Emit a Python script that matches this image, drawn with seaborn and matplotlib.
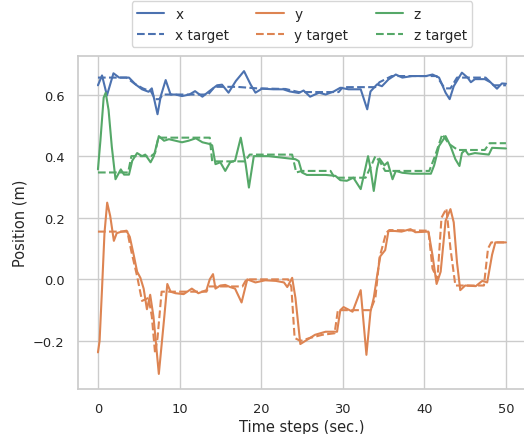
import numpy as np
import pandas as pd
import matplotlib
matplotlib.use("Agg")
import matplotlib.pyplot as plt
import seaborn as sns

# (time, value) pairs
x_pos = [(0, 0.63), (0.5, 0.662), (1.1, 0.597), (1.9, 0.669), (2.6, 0.655), (3.8, 0.655),
         (4.6, 0.633), (5.4, 0.617), (6.2, 0.609), (6.6, 0.62), (7.3, 0.536), (7.7, 0.595),
         (8.3, 0.647), (8.9, 0.60), (9.5, 0.60), (10.3, 0.595), (11.2, 0.60), (11.9, 0.611),
         (12.8, 0.593), (13.6, 0.61), (14.6, 0.63), (15.2, 0.632), (16.0, 0.606), (16.9, 0.644),
         (17.9, 0.676), (18.7, 0.633), (19.3, 0.606), (20.1, 0.619), (21.5, 0.617), (22.7, 0.617),
         (23.5, 0.61), (24.6, 0.605), (25.2, 0.613), (26.0, 0.593), (27.1, 0.606), (27.9, 0.60),
         (28.9, 0.61), (29.7, 0.622), (30.7, 0.617), (32.2, 0.617), (33.0, 0.552), (33.4, 0.61),
         (34.2, 0.633), (34.8, 0.627), (35.6, 0.649), (36.5, 0.665), (37.3, 0.655), (38.5, 0.66),
         (40.2, 0.66), (41.0, 0.665), (41.8, 0.655), (42.6, 0.606), (43.1, 0.585), (43.6, 0.627),
         (44.6, 0.671), (45.3, 0.655), (45.7, 0.64), (46.2, 0.65), (47.4, 0.65), (48.1, 0.64),
         (48.9, 0.619), (49.5, 0.636), (50, 0.635)]
x_target = [(0, 0.655), (3.5, 0.655), (4.5, 0.635), (5.5, 0.62), (6.5, 0.61), (7.0, 0.585),
            (7.5, 0.585), (8.0, 0.60), (13.5, 0.60), (14.3, 0.625), (17, 0.625), (19.5, 0.62),
            (23, 0.618), (24.6, 0.608), (29.5, 0.608), (30, 0.624), (34, 0.624), (34.5, 0.64),
            (36, 0.66), (41.5, 0.66), (42.5, 0.62), (43.2, 0.62), (44, 0.655), (47.5, 0.655),
            (48.5, 0.63), (50, 0.63)]

y_pos = [(0, -0.237), (0.2, -0.2), (0.5, -0.03), (0.8, 0.15), (1.13, 0.249), (1.5, 0.206),
         (1.95, 0.125), (2.3, 0.15), (2.9, 0.155), (3.5, 0.158), (3.9, 0.138), (4.4, 0.077),
         (4.8, 0.025), (5.2, 0.005), (5.6, -0.03), (6.0, -0.097), (6.4, -0.05), (6.8, -0.12),
         (7.46, -0.307), (8.1, -0.13), (8.5, -0.015), (8.9, -0.04), (9.5, -0.045), (10.5, -0.048),
         (11.5, -0.03), (12.3, -0.045), (13.3, -0.035), (13.7, 0.0), (14.1, 0.017), (14.4, -0.03),
         (15.0, -0.02), (15.6, -0.018), (16.2, -0.025), (16.8, -0.03), (17.6, -0.075), (18.3, 0.0),
         (19.3, -0.01), (20.5, -0.003), (21.8, -0.005), (22.8, -0.01), (23.2, -0.025), (23.8, 0.005),
         (24.2, -0.06), (24.8, -0.21), (25.4, -0.20), (26.6, -0.18), (27.9, -0.17), (29.3, -0.17),
         (29.7, -0.10), (30.1, -0.09), (31.2, -0.105), (32.2, -0.035), (32.9, -0.245), (33.4, -0.105),
         (33.8, -0.06), (34.2, 0.01), (34.6, 0.075), (35.2, 0.095), (35.6, 0.157), (36.4, 0.157),
         (37.2, 0.155), (38.3, 0.163), (38.9, 0.153), (40.5, 0.155), (41.0, 0.078), (41.5, -0.015),
         (42.0, 0.025), (42.6, 0.19), (43.2, 0.228), (43.6, 0.185), (44.0, 0.055), (44.4, -0.035),
         (45.0, -0.02), (46.3, -0.022), (47.1, -0.005), (47.7, -0.01), (48.3, 0.08), (48.7, 0.12),
         (50, 0.12)]
y_target = [(0, 0.155), (3.6, 0.155), (4.1, 0.09), (4.8, 0.01), (5.4, -0.07), (6.2, -0.06),
            (6.6, -0.12), (7.0, -0.24), (7.3, -0.19), (7.8, -0.04), (13.3, -0.04), (13.6, -0.023),
            (17.7, -0.023), (18.2, 0.0), (23.3, 0.0), (23.7, -0.025), (24.1, -0.19), (24.8, -0.2),
            (26.0, -0.19), (27.5, -0.18), (29.0, -0.175), (29.4, -0.10), (33.4, -0.10), (34.0, -0.06),
            (34.5, 0.07), (35.3, 0.15), (35.7, 0.16), (40.5, 0.158), (41.0, 0.035), (41.6, 0.0),
            (42.1, 0.2), (42.7, 0.23), (43.2, 0.1), (43.8, -0.02), (47.3, -0.02), (47.8, 0.1),
            (48.2, 0.12), (50, 0.12)]

z_pos = [(0, 0.357), (0.3, 0.45), (0.7, 0.59), (0.95, 0.606), (1.3, 0.55), (1.7, 0.43),
         (2.15, 0.325), (2.8, 0.357), (3.2, 0.34), (3.8, 0.34), (4.2, 0.385), (4.8, 0.41),
         (5.4, 0.40), (5.8, 0.405), (6.45, 0.38), (6.85, 0.40), (7.46, 0.465), (8.1, 0.45),
         (8.7, 0.455), (9.5, 0.45), (10.3, 0.445), (11.1, 0.45), (12.0, 0.458), (12.8, 0.445),
         (13.6, 0.44), (14.0, 0.435), (14.4, 0.374), (15.0, 0.38), (15.6, 0.352), (16.2, 0.38),
         (16.8, 0.385), (17.5, 0.46), (18.1, 0.374), (18.5, 0.298), (19.1, 0.40), (19.7, 0.40),
         (20.9, 0.40), (22.6, 0.395), (24.2, 0.39), (24.6, 0.384), (25.0, 0.347), (25.6, 0.339),
         (26.6, 0.339), (27.9, 0.339), (29.1, 0.336), (29.7, 0.322), (30.5, 0.32), (31.3, 0.33),
         (32.2, 0.293), (32.6, 0.34), (33.1, 0.40), (33.4, 0.36), (33.8, 0.287), (34.2, 0.36),
         (34.5, 0.392), (35.1, 0.37), (35.5, 0.38), (36.1, 0.325), (36.5, 0.352), (37.3, 0.346),
         (38.5, 0.343), (39.8, 0.343), (40.8, 0.343), (41.2, 0.37), (41.8, 0.433), (42.6, 0.465),
         (43.2, 0.433), (43.8, 0.39), (44.3, 0.368), (44.6, 0.41), (45.0, 0.42), (45.4, 0.405),
         (46.2, 0.41), (47.9, 0.405), (48.3, 0.427), (50, 0.425)]
z_target = [(0, 0.347), (3.7, 0.347), (4.1, 0.40), (6.5, 0.40), (7.0, 0.41), (7.4, 0.46),
            (13.7, 0.46), (14.0, 0.383), (18.0, 0.383), (18.6, 0.405), (23.8, 0.405), (24.3, 0.347),
            (25.0, 0.352), (28.5, 0.352), (29.0, 0.33), (32.8, 0.33), (33.5, 0.37), (34.0, 0.40),
            (34.6, 0.38), (35.2, 0.352), (40.6, 0.352), (41.3, 0.40), (42.2, 0.471), (43, 0.44),
            (44.1, 0.42), (47.4, 0.42), (48.0, 0.442), (50, 0.442)]

series = [("x", x_pos, 0, "-"), ("x target", x_target, 0, "--"),
          ("y", y_pos, 1, "-"), ("y target", y_target, 1, "--"),
          ("z", z_pos, 2, "-"), ("z target", z_target, 2, "--")]

sns.set_theme(style="whitegrid")
pal = sns.color_palette("deep")

fig = plt.figure(figsize=(5.24, 4.35), dpi=100)
ax = fig.add_axes([0.148, 0.1034, 0.8565, 0.7655])

for name, pts, ci, ls in series:
    df = pd.DataFrame(pts, columns=["t", "v"])
    sns.lineplot(data=df, x="t", y="v", ax=ax, color=pal[ci], linestyle=ls,
                 linewidth=1.5, label=name, sort=False)

ax.set_xlim(-2.5, 52.5)
ax.set_ylim(-0.356, 0.725)
ax.set_xticks([0, 10, 20, 30, 40, 50])
ax.set_yticks([-0.2, 0.0, 0.2, 0.4, 0.6])
ax.tick_params(labelsize=9.4)
ax.set_xlabel("Time steps (sec.)", fontsize=10.5, labelpad=3)
ax.set_ylabel("Position (m)", fontsize=10.5)
ax.legend(loc="lower center", bbox_to_anchor=(0.5, 1.027), ncol=3, fontsize=9.8,
          borderaxespad=0)

fig.savefig("out.png", dpi=100)
